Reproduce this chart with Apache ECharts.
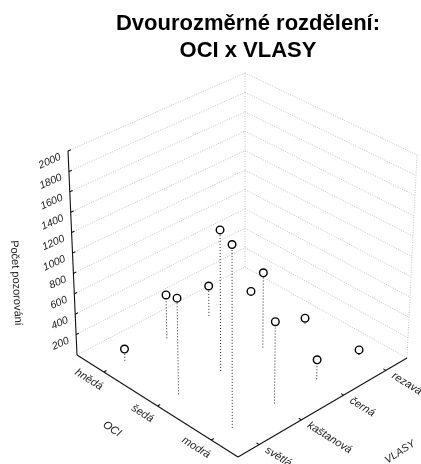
<!DOCTYPE html>
<html>
<head>
<meta charset="utf-8">
<style>html,body{margin:0;padding:0;background:#fff}#c{width:421px;height:464px}</style>
<script src="https://cdn.jsdelivr.net/npm/echarts@6/dist/echarts.min.js"></script>
</head>
<body>
<div id="c"></div>
<script>
const titleText = 'Dvourozměrné rozdělení:\nOCI x VLASY';
const ociCategories = ['hnědá', 'šedá', 'modrá'];
const hairCategories = ['světlá', 'kaštanová', 'černá', 'rezavá'];
const countTicks = [200, 400, 600, 800, 1000, 1200, 1400, 1600, 1800, 2000];
const countsHneda = [115, 430, 300, 20];
const countsSeda = [930, 1380, 740, 60];
const countsModra = [1750, 790, 190, 50];
const countMax = 2000;

const FONT = '"Liberation Sans", Arial, sans-serif';
const floorC = { L: [77, 355], F: [238, 457], R: [407, 358], B: [245, 267] };
const topC = { L: [68, 151], F: [238, 245], R: [417, 155], B: [245, 73] };

function bil(c, s, t) {
  const w = [(1 - s) * (1 - t), s * (1 - t), s * t, (1 - s) * t];
  const k = ['L', 'F', 'R', 'B'];
  return [0, 1].map(d => k.reduce((a, n, i) => a + w[i] * c[n][d], 0));
}
// s: 0 (hnědá side) .. 1 (modrá side); t: 0 (světlá side) .. 1 (rezavá side); z: count
function proj(s, t, z) {
  const a = bil(floorC, s, t), b = bil(topC, s, t), f = z / countMax;
  return [a[0] + (b[0] - a[0]) * f, a[1] + (b[1] - a[1]) * f];
}
const sOf = i => (i + 0.5) / ociCategories.length;
const tOf = j => (j + 0.5) / hairCategories.length;

const cells = [];
[countsHneda, countsSeda, countsModra].forEach((row, i) =>
  row.forEach((v, j) => cells.push([i, j, v])));

const GRID = '#c4c4c4';
const DOT = { stroke: GRID, lineWidth: 1, lineDash: [1, 1.5] };
const AX = { stroke: '#111', lineWidth: 1.1 };
const TXT = (text, pos, rot, align, size) => ({
  type: 'text', x: pos[0], y: pos[1], rotation: rot * Math.PI / 180,
  style: { text, x: 0, y: 0, align, verticalAlign: 'middle', fill: '#222',
           font: 'italic ' + size + 'px ' + FONT }
});
const seg = (api, a, b, style) => {
  const p = api.coord(a), q = api.coord(b);
  return { type: 'line', shape: { x1: p[0], y1: p[1], x2: q[0], y2: q[1] }, style };
};

function renderFrame(params, api) {
  const kids = [];
  [0].concat(countTicks).forEach(z => {
    kids.push(seg(api, proj(0, 0, z), proj(0, 1, z), DOT));
    kids.push(seg(api, proj(0, 1, z), proj(1, 1, z), DOT));
  });
  kids.push(seg(api, proj(0, 1, 0), proj(0, 1, countMax), DOT));
  kids.push(seg(api, proj(1, 1, 0), proj(1, 1, countMax), DOT));
  kids.push(seg(api, proj(0, 0, 0), proj(0, 0, countMax), AX));
  kids.push(seg(api, proj(0, 0, 0), proj(1, 0, 0), AX));
  kids.push(seg(api, proj(1, 0, 0), proj(1, 1, 0), AX));
  countTicks.forEach(z => {
    kids.push(seg(api, proj(0, 0, z), proj(0, 0.016, z), AX));
    const p = api.coord(proj(0, 0, z));
    kids.push(TXT(String(z), [p[0] - 7.5, p[1] + 5.5], 24, 'right', 10.5));
  });
  ociCategories.forEach((name, i) => {
    kids.push(seg(api, proj(sOf(i), 0, 0), proj(sOf(i), 0.016, 0), AX));
    const p = api.coord(proj(sOf(i), 0, 0));
    kids.push(TXT(name, [p[0] - 15, p[1] + 7.5], -32, 'center', 11));
  });
  hairCategories.forEach((name, j) => {
    kids.push(seg(api, proj(1, tOf(j), 0), proj(0.984, tOf(j), 0), AX));
    const p = api.coord(proj(1, tOf(j), 0));
    kids.push(TXT(name, [p[0] + 7, p[1] + 4.5], -32, 'left', 11));
  });
  kids.push(TXT('OCI', api.coord([112, 429]), -33, 'center', 11));
  kids.push(TXT('VLASY', api.coord([400, 452]), 33, 'center', 10.5));
  const zl = TXT('Počet pozorování', api.coord([16, 283]), -87, 'center', 11);
  zl.style.font = '11px ' + FONT;
  kids.push(zl);
  return { type: 'group', children: kids };
}

function renderCell(params, api) {
  const i = api.value(0), j = api.value(1), v = api.value(2);
  const s = sOf(i), t = tOf(j);
  const top = api.coord(proj(s, t, v));
  return { type: 'group', children: [
    seg(api, proj(s, t, 0), proj(s, t, v), { stroke: '#222', lineWidth: 1, lineDash: [1, 2] }),
    { type: 'circle', shape: { cx: top[0], cy: top[1], r: 3.8 },
      style: { fill: '#fff', stroke: '#000', lineWidth: 1.4 } }
  ] };
}

const chart = echarts.init(document.getElementById('c'), null, { renderer: 'canvas' });
chart.setOption({
  animation: false,
  backgroundColor: '#fff',
  title: {
    text: titleText, left: 248, top: 10, padding: 0, textAlign: 'center',
    textStyle: { fontFamily: FONT, fontWeight: 'bold', fontSize: 22, lineHeight: 27, color: '#000' }
  },
  grid: { left: 0, right: 0, top: 0, bottom: 0 },
  xAxis: { type: 'value', min: 0, max: 421, show: false },
  yAxis: { type: 'value', min: 0, max: 464, inverse: true, show: false },
  series: [
    { type: 'custom', name: 'frame', coordinateSystem: 'cartesian2d', silent: true,
      clip: false, data: [[0, 0]], renderItem: renderFrame, z: 1 },
    { type: 'custom', name: 'OCI x VLASY', coordinateSystem: 'cartesian2d', silent: true,
      clip: false, data: cells, encode: { x: 0, y: 1 }, renderItem: renderCell, z: 2 }
  ]
});
</script>
</body>
</html>
